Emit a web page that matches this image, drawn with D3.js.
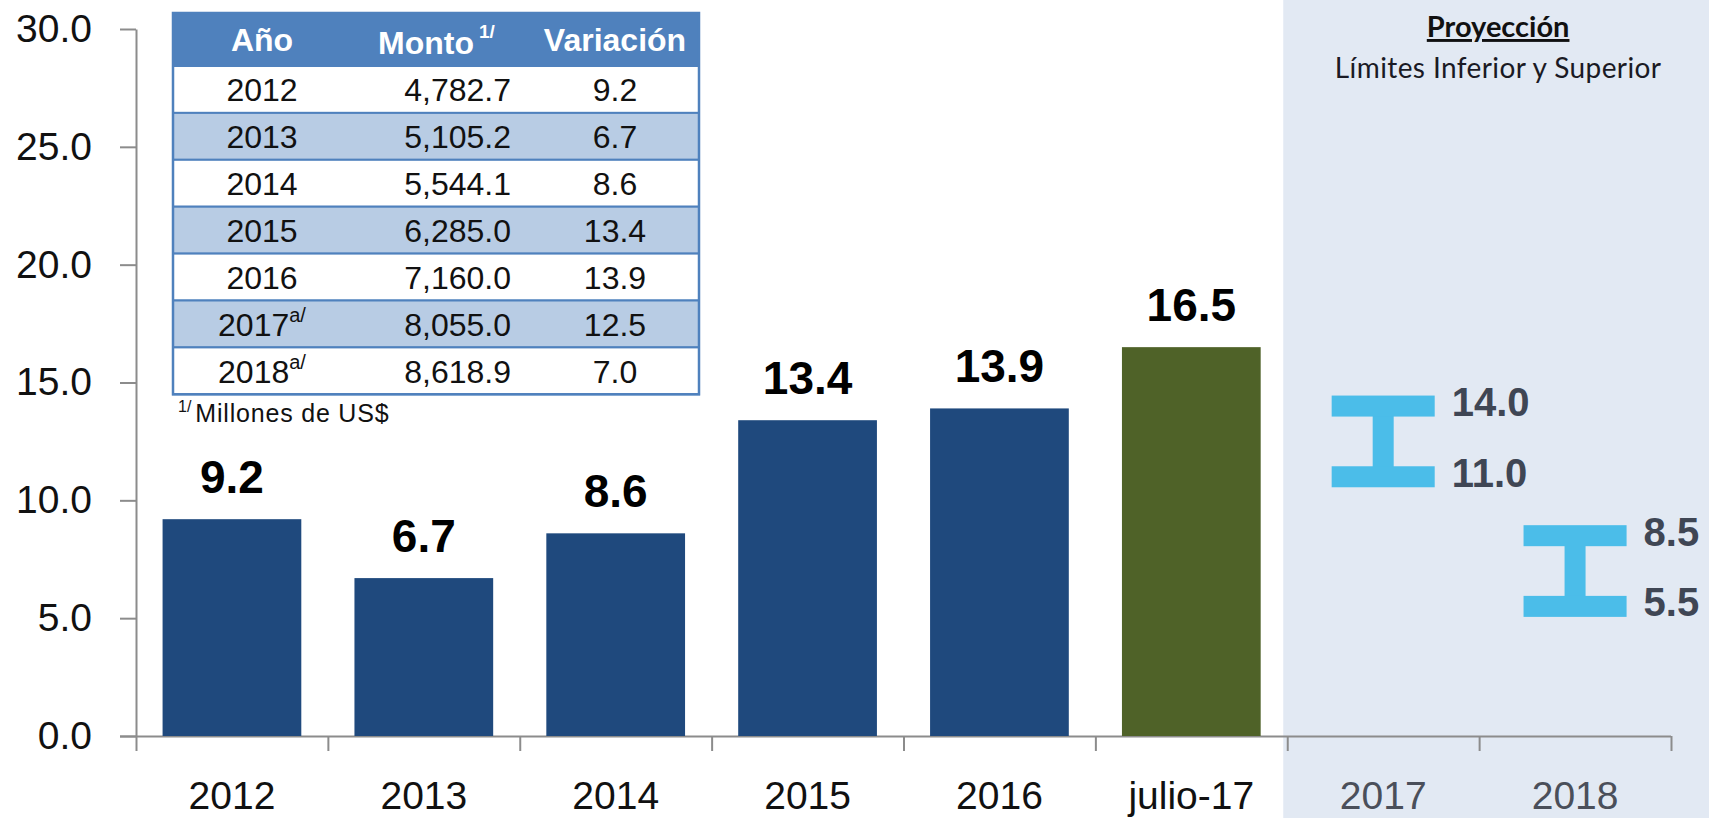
<!DOCTYPE html>
<html>
<head>
<meta charset="utf-8">
<script src="https://cdn.jsdelivr.net/npm/d3@7"></script>
<style>
  body { margin: 0; background: #fff; }
  svg { display: block; font-family: "Liberation Sans", Arial, sans-serif; }
</style>
</head>
<body>
<svg id="chart"></svg>
<script>
// bars (actual values) and projection ranges
const barCategories = ['2012', '2013', '2014', '2015', '2016', 'julio-17'];
const barValues = [9.2, 6.7, 8.6, 13.4, 13.9, 16.5];
const projCategories = ['2017', '2018'];
const projLow = [11.0, 5.5];
const projHigh = [14.0, 8.5];
const yTicks = [0, 5, 10, 15, 20, 25, 30];

// inset table
const tableHeaders = ['Año', 'Monto', 'Variación'];
const tableYears = ['2012', '2013', '2014', '2015', '2016', '2017', '2018'];
const tableYearNotes = ['', '', '', '', '', 'a/', 'a/'];
const tableMontos = ['4,782.7', '5,105.2', '5,544.1', '6,285.0', '7,160.0', '8,055.0', '8,618.9'];
const tableVariaciones = ['9.2', '6.7', '8.6', '13.4', '13.9', '12.5', '7.0'];

const W = 1709, H = 818;
const margin = {left: 136, right: 38, top: 29, bottom: 82};
const categories = barCategories.concat(projCategories);

const svg = d3.select('#chart').attr('width', W).attr('height', H);

const y = d3.scaleLinear().domain([0, 30]).range([H - margin.bottom, margin.top]);
const x = d3.scaleBand()
  .domain(categories)
  .range([margin.left, W - margin.right])
  .paddingInner(0.277)
  .paddingOuter(0.1385);
const edge = d3.scaleLinear()
  .domain([0, categories.length])
  .range([margin.left, W - margin.right]);

const axisColor = '#8c8c8c';

// projection background
svg.append('rect')
  .attr('x', edge(barCategories.length) - 4)
  .attr('y', 0)
  .attr('width', W - edge(barCategories.length) + 4)
  .attr('height', H)
  .attr('fill', '#e2e9f3');

// y axis
const yAxis = svg.append('g')
  .attr('transform', `translate(${margin.left},0)`)
  .call(d3.axisLeft(y).tickValues(yTicks).tickFormat(d3.format('.1f'))
    .tickSize(16).tickSizeOuter(0).tickPadding(28));
yAxis.selectAll('path, line').attr('stroke', axisColor).attr('stroke-width', 2);
yAxis.selectAll('text').attr('font-size', 39).attr('fill', '#111');

// x axis: ticks sit on category boundaries
const xAxis = svg.append('g')
  .attr('transform', `translate(0,${y(0)})`)
  .call(d3.axisBottom(edge).tickValues(d3.range(categories.length + 1))
    .tickFormat('').tickSize(15).tickSizeOuter(0));
xAxis.selectAll('path, line').attr('stroke', axisColor).attr('stroke-width', 2);
xAxis.select('path').attr('d', `M${margin.left - 16},0.5H${W - margin.right}`);

const xLabels = svg.append('g')
  .attr('transform', `translate(0,${y(0)})`)
  .call(d3.axisBottom(x).tickSize(0).tickPadding(45));
xLabels.select('.domain').remove();
xLabels.selectAll('text')
  .attr('font-size', 39)
  .attr('fill', d => projCategories.includes(d) ? '#4a4f5a' : '#111');

// bars
const bars = barCategories.map((c, i) => ({cat: c, value: barValues[i]}));
svg.append('g').selectAll('rect').data(bars).enter()
  .append('rect')
  .attr('x', d => x(d.cat))
  .attr('y', d => y(d.value))
  .attr('width', x.bandwidth())
  .attr('height', d => y(0) - y(d.value))
  .attr('fill', d => d.cat === 'julio-17' ? '#4f6228' : '#1f497d');

svg.append('g').selectAll('text').data(bars).enter()
  .append('text')
  .attr('x', d => x(d.cat) + x.bandwidth() / 2)
  .attr('y', d => y(d.value) - 26)
  .attr('text-anchor', 'middle')
  .attr('font-size', 46)
  .attr('font-weight', 'bold')
  .attr('fill', '#000')
  .text(d => d.value.toFixed(1));

// projection ranges drawn as I-beams
const proj = projCategories.map((c, i) => ({cat: c, low: projLow[i], high: projHigh[i]}));
const capW = x.step() * 0.537, thick = 21;
const beams = svg.append('g').selectAll('g').data(proj).enter().append('g')
  .attr('fill', '#4bbde9');
beams.append('rect')
  .attr('x', d => x(d.cat) + x.bandwidth() / 2 - thick / 2)
  .attr('y', d => y(d.high))
  .attr('width', thick)
  .attr('height', d => y(d.low) - y(d.high));
for (const key of ['high', 'low']) {
  beams.append('rect')
    .attr('x', d => x(d.cat) + x.bandwidth() / 2 - capW / 2)
    .attr('y', d => y(d[key]) - thick / 2)
    .attr('width', capW)
    .attr('height', thick);
  svg.append('g').selectAll('text').data(proj).enter()
    .append('text')
    .attr('x', d => x(d.cat) + x.bandwidth() / 2 + capW / 2 + 17)
    .attr('y', d => y(d[key]) + 10)
    .attr('font-size', 40)
    .attr('font-weight', 'bold')
    .attr('fill', '#3f4654')
    .text(d => d[key].toFixed(1));
}

// projection title
const projCenter = (edge(barCategories.length) + W) / 2;
svg.append('text')
  .attr('x', projCenter).attr('y', 37)
  .attr('text-anchor', 'middle')
  .attr('font-family', 'Lato, "Open Sans", sans-serif')
  .attr('font-size', 29).attr('font-weight', 'bold')
  .style('text-decoration', 'underline')
  .attr('fill', '#111')
  .text('Proyección');
svg.append('text')
  .attr('x', projCenter).attr('y', 78)
  .attr('text-anchor', 'middle')
  .attr('font-family', 'Lato, "Open Sans", sans-serif')
  .attr('font-size', 28)
  .attr('letter-spacing', 0.4)
  .attr('fill', '#1a1a24')
  .text('Límites Inferior y Superior');

// table
const table = {x: 173, y: 13, width: 526, headH: 53, rowH: 46.9};
const colX = {year: 262, montoEnd: 511, variacion: 615};
const tg = svg.append('g');
tg.append('rect')
  .attr('x', table.x).attr('y', table.y)
  .attr('width', table.width).attr('height', table.headH)
  .attr('fill', '#4f81bd');
const rows = tableYears.map((yr, i) => ({
  year: yr, note: tableYearNotes[i], monto: tableMontos[i], variacion: tableVariaciones[i], i}));
const rowY = i => table.y + table.headH + i * table.rowH;
tg.selectAll('.row').data(rows).enter().append('rect')
  .attr('x', table.x).attr('y', d => rowY(d.i))
  .attr('width', table.width).attr('height', table.rowH)
  .attr('fill', d => d.i % 2 ? '#b8cce4' : '#fff')
  .attr('stroke', '#4f81bd').attr('stroke-width', 2);
tg.append('rect')
  .attr('x', table.x).attr('y', table.y)
  .attr('width', table.width).attr('height', table.headH + rows.length * table.rowH)
  .attr('fill', 'none').attr('stroke', '#4f81bd').attr('stroke-width', 2.5);

const head = tg.append('g').attr('font-size', 32).attr('font-weight', 'bold').attr('fill', '#fff');
head.append('text').attr('x', colX.year).attr('y', table.y + 38)
  .attr('text-anchor', 'middle').text(tableHeaders[0]);
const montoHead = head.append('text').attr('x', 378).attr('y', table.y + 41);
montoHead.append('tspan').text(tableHeaders[1]);
montoHead.append('tspan').attr('dx', 5).attr('dy', -16).attr('font-size', 19).text('1/');
head.append('text').attr('x', colX.variacion).attr('y', table.y + 38)
  .attr('text-anchor', 'middle').text(tableHeaders[2]);

const body = tg.append('g').attr('font-size', 32).attr('fill', '#111');
const yearText = body.selectAll('.yr').data(rows).enter().append('text')
  .attr('x', colX.year).attr('y', d => rowY(d.i) + table.rowH / 2 + 12)
  .attr('text-anchor', 'middle');
yearText.append('tspan').text(d => d.year);
yearText.append('tspan').attr('dy', -14).attr('font-size', 20).text(d => d.note);
body.selectAll('.mt').data(rows).enter().append('text')
  .attr('x', colX.montoEnd).attr('y', d => rowY(d.i) + table.rowH / 2 + 12)
  .attr('text-anchor', 'end').text(d => d.monto);
body.selectAll('.vr').data(rows).enter().append('text')
  .attr('x', colX.variacion).attr('y', d => rowY(d.i) + table.rowH / 2 + 12)
  .attr('text-anchor', 'middle').text(d => d.variacion);

const foot = tg.append('text')
  .attr('x', table.x + 5)
  .attr('y', rowY(rows.length) + 28)
  .attr('fill', '#111');
foot.append('tspan').attr('font-size', 16).attr('dy', -10).text('1/');
foot.append('tspan').attr('font-size', 25).attr('dx', 4).attr('dy', 10)
  .attr('letter-spacing', 0.8).text('Millones de US$');
</script>
</body>
</html>
